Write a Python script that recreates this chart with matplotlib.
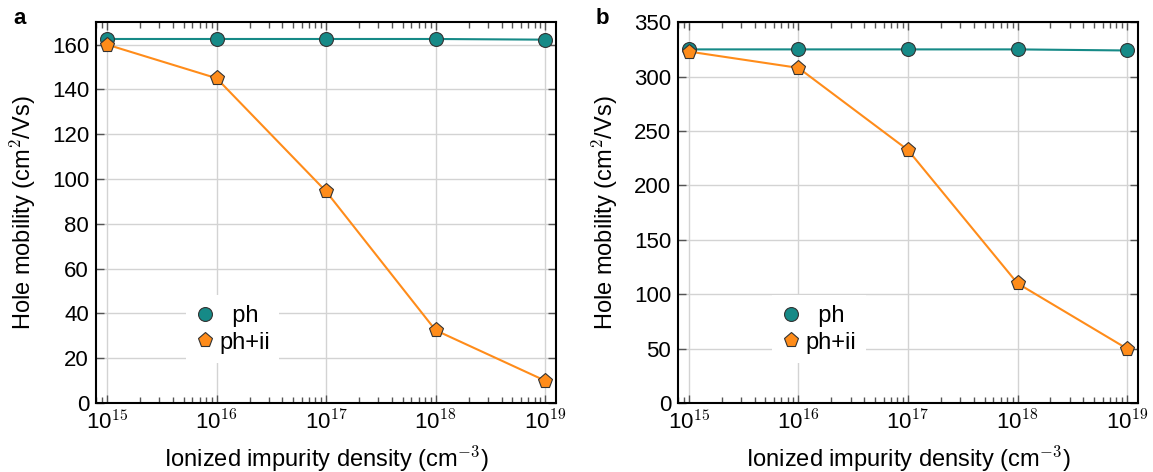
import numpy as np
import matplotlib.pyplot as plt
from matplotlib.ticker import LogLocator, FixedLocator

plt.rcParams['font.family'] = ['Liberation Sans', 'DejaVu Sans']
plt.rcParams['mathtext.fontset'] = 'cm'

density = [1e15, 1e16, 1e17, 1e18, 1e19]
exponents = [15, 16, 17, 18, 19]
ph_a = [162.5, 162.5, 162.5, 162.5, 162.2]
phii_a = [160.0, 145.0, 94.5, 32.5, 10.0]
ph_b = [325.0, 325.0, 325.0, 325.0, 324.0]
phii_b = [323.0, 308.0, 232.5, 110.0, 50.0]

panels = [("a", ph_a, phii_a, 170, [0, 20, 40, 60, 80, 100, 120, 140, 160], (0.196, 0.105)),
          ("b", ph_b, phii_b, 350, [0, 50, 100, 150, 200, 250, 300, 350], (0.205, 0.105))]

teal = '#168a87'
orange = '#ff8c1a'

fig = plt.figure(figsize=(11.53, 4.72), dpi=100)
rects = [[0.0833, 0.146, 0.399, 0.807], [0.588, 0.146, 0.399, 0.807]]

for rect, (tag, ph, phii, ymax, yticks, legpos) in zip(rects, panels):
    ax = fig.add_axes(rect)
    ax.plot(density, ph, color=teal, lw=1.5, marker='o', ms=10, mfc=teal,
            mec='#333333', mew=0.8, label='  ph', zorder=3)
    ax.plot(density, phii, color=orange, lw=1.5, marker='p', ms=11, mfc=orange,
            mec='#333333', mew=0.8, label='ph+ii', zorder=3)
    ax.set_xscale('log')
    ax.set_xlim(10**14.9, 10**19.1)
    ax.set_ylim(0, ymax)
    ax.xaxis.set_major_locator(FixedLocator(density))
    ax.xaxis.set_minor_locator(LogLocator(base=10, subs=np.arange(2, 10), numticks=20))
    ax.set_yticks(yticks)
    ax.set_xticklabels([r'10$^{%d}$' % e for e in exponents])
    ax.grid(True, which='major', color='#d3d3d3', lw=1, zorder=0)
    ax.tick_params(which='both', direction='in', top=True, right=True, labelsize=16,
                   color='#555555')
    ax.tick_params(which='major', length=6, width=1)
    ax.tick_params(which='minor', length=4, width=1)
    ax.tick_params(axis='x', which='major', pad=5)
    ax.tick_params(axis='y', which='major', pad=5)
    for s in ax.spines.values():
        s.set_linewidth(1.5)
    ax.set_ylabel(r'Hole mobility (cm$^{2}$/Vs)', fontsize=17, labelpad=10)
    ax.set_xlabel(r'Ionized impurity density (cm$^{-3}$)', fontsize=17, labelpad=7)
    ax.text(-0.18, 1.01, tag, transform=ax.transAxes, fontsize=16, fontweight='bold',
            va='center', ha='left')
    leg = ax.legend(loc='lower left', bbox_to_anchor=legpos, frameon=True, fontsize=17,
                    handlelength=0.8, handletextpad=0.2, borderpad=0.4,
                    labelspacing=0.2, fancybox=False, numpoints=1, borderaxespad=0)
    for h in leg.legend_handles:
        h.set_linestyle('none')
    leg.get_frame().set_edgecolor('none')
    leg.get_frame().set_facecolor('white')
    leg.get_frame().set_alpha(1)

fig.savefig('out.png', dpi=100)
